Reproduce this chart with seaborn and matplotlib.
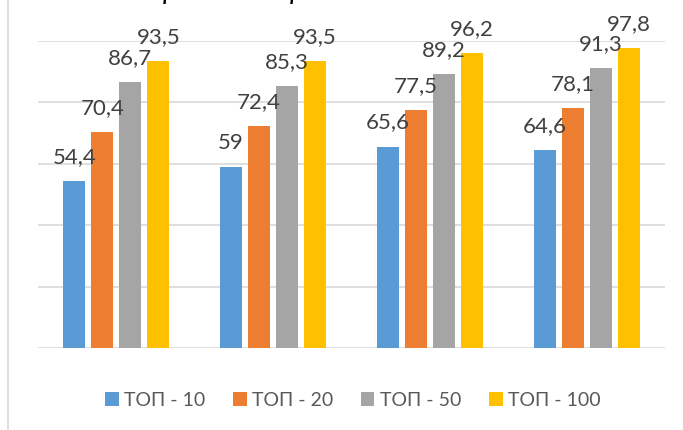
import numpy as np
import pandas as pd
import seaborn as sns
import matplotlib
matplotlib.use("Agg")
import matplotlib.pyplot as plt
from matplotlib.lines import Line2D

# ---- data ----
groups = ["1", "2", "3", "4"]
series = ["ТОП - 10", "ТОП - 20", "ТОП - 50", "ТОП - 100"]
top10 = [54.4, 59.0, 65.6, 64.6]
top20 = [70.4, 72.4, 77.5, 78.1]
top50 = [86.7, 85.3, 89.2, 91.3]
top100 = [93.5, 93.5, 96.2, 97.8]
colors = ["#5B9BD5", "#ED7D31", "#A5A5A5", "#FFC000"]

rows = []
for name, vals in zip(series, [top10, top20, top50, top100]):
    for g, v in zip(groups, vals):
        rows.append({"group": g, "series": name, "value": v})
df = pd.DataFrame(rows)

sns.set_theme(style="white")
plt.rcParams['font.family'] = ['Lato', 'DejaVu Sans']

W, H = 683, 430
fig = plt.figure(figsize=(W / 100, H / 100), dpi=100)
ax = fig.add_axes([38 / W, 1 - 348 / H, (665 - 38) / W, (348 - 41) / H])

sns.barplot(data=df, x="group", y="value", hue="series", hue_order=series,
            order=groups, palette=colors, saturation=1, width=0.7145, gap=0.214,
            linewidth=0, ax=ax, legend=True, errorbar=None)

ax.set_ylim(0, 100)
ax.set_xlim(-0.5, len(groups) - 0.5)
ax.set_yticks([0, 20, 40, 60, 80, 100])
ax.yaxis.grid(True, color="#D9D9D9", linewidth=1.2)
ax.set_axisbelow(True)
for s in ax.spines.values():
    s.set_visible(False)
ax.set_xlabel("")
ax.set_ylabel("")
ax.set_xticklabels([])
ax.set_yticklabels([])
ax.tick_params(left=False, bottom=False)

def fmt(v):
    if float(v).is_integer():
        return str(int(v))
    return f"{v:.1f}".replace(".", ",")

for cont, vals in zip(ax.containers, [top10, top20, top50, top100]):
    for patch, v in zip(cont.patches, vals):
        x = patch.get_x() + patch.get_width() / 2
        ax.annotate(fmt(v), (x, patch.get_height()), xytext=(0, 13),
                    textcoords="offset points", ha="center", va="baseline",
                    fontsize=16, color="#404040", clip_on=False, annotation_clip=False)

handles, labels = ax.get_legend_handles_labels()
ax.get_legend().remove()
fig.legend(handles, labels, loc="center", bbox_to_anchor=(353 / W, 1 - 400 / H),
           ncol=4, frameon=False, fontsize=14, handlelength=0.7, handleheight=0.7,
           handletextpad=0.3, columnspacing=1.4, labelcolor="#595959")

# chart-area border on the left
fig.add_artist(Line2D([8 / W, 8 / W], [0, 1], transform=fig.transFigure,
                      color="#D9D9D9", linewidth=1.2))

# descenders of the cropped title at the very top (the reference title is cut off)
for xp in [170, 297]:
    fig.text(xp / W, 1 + 1 / H, "р", fontsize=20, style="italic",
             ha="center", va="baseline", color="#000000")

fig.savefig("out.png", dpi=100)
